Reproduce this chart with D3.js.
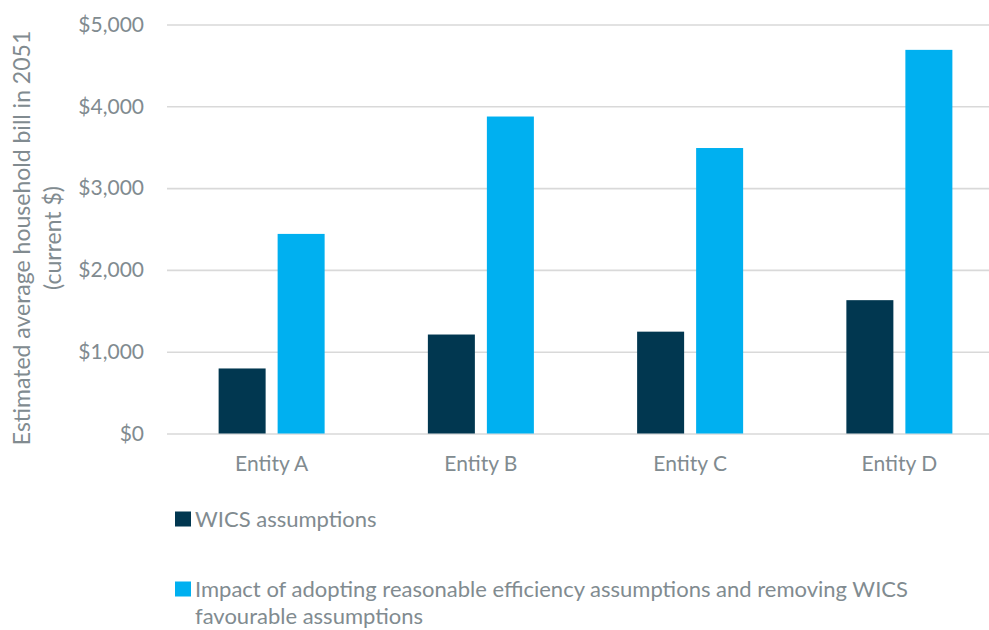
<!DOCTYPE html>
<html>
<head>
<meta charset="utf-8">
<script src="https://cdn.jsdelivr.net/npm/d3@7"></script>
<style>
  html, body { margin: 0; padding: 0; background: #fff; }
  svg { display: block; }
  text { font-family: Lato, "Open Sans", sans-serif; fill: #818b90; }
</style>
</head>
<body>
<script>
// Estimated average household bill in 2051, by entity
const categories = ["Entity A", "Entity B", "Entity C", "Entity D"];
const seriesNames = [
  "WICS assumptions",
  "Impact of adopting reasonable efficiency assumptions and removing WICS favourable assumptions"
];
const wicsValues = [795, 1210, 1245, 1630];
const adjustedValues = [2440, 3875, 3490, 4690];
const yTicks = [0, 1000, 2000, 3000, 4000, 5000];
const seriesColors = ["#013750", "#00b0f0"];

const width = 989, height = 630;
const svg = d3.select("body").append("svg")
  .attr("width", width).attr("height", height);

const x0 = d3.scaleBand()
  .domain(categories)
  .range([167, 1004])
  .paddingInner(0.4934)
  .paddingOuter(0.2467);

const x1 = d3.scaleBand()
  .domain([0, 1])
  .range([0, x0.bandwidth()])
  .paddingInner(0.2034)
  .paddingOuter(0);

const y = d3.scaleLinear().domain([0, 5000]).range([433.5, 24.5]);

// gridlines + y tick labels
const yAxis = d3.axisLeft(y)
  .tickValues(yTicks)
  .tickSize(-(1004 - 167))
  .tickPadding(23)
  .tickFormat(d => "$" + d3.format(",")(d));

const gy = svg.append("g")
  .attr("transform", "translate(167,0)")
  .call(yAxis);
gy.select(".domain").remove();
gy.selectAll(".tick line").attr("stroke", "#d9d9d9").attr("stroke-width", 1.6);
gy.selectAll(".tick text")
  .attr("font-size", 21)
  .attr("fill", "#818b90");

// bars
const rows = categories.map((c, i) => ({ cat: c, vals: [wicsValues[i], adjustedValues[i]] }));
const groups = svg.append("g").selectAll("g")
  .data(rows).join("g")
  .attr("transform", d => `translate(${x0(d.cat)},0)`);

groups.selectAll("rect")
  .data(d => d.vals.map((v, k) => ({ k, v })))
  .join("rect")
  .attr("x", d => x1(d.k))
  .attr("width", x1.bandwidth())
  .attr("y", d => y(d.v))
  .attr("height", d => y(0) - y(d.v))
  .attr("fill", d => seriesColors[d.k]);

// category axis labels
const xAxis = d3.axisBottom(x0).tickSize(0).tickPadding(23);
const gx = svg.append("g")
  .attr("transform", `translate(0,${y(0)})`)
  .call(xAxis);
gx.select(".domain").remove();
gx.selectAll(".tick text").attr("font-size", 21).attr("fill", "#818b90");

// y axis title (two lines)
const title = svg.append("text")
  .attr("transform", "translate(22,238) rotate(-90)")
  .attr("text-anchor", "middle")
  .attr("font-size", 23);
title.append("tspan").attr("x", 0).attr("dy", "0.35em")
  .text("Estimated average household bill in 2051");
title.append("tspan").attr("x", 0).attr("dy", 31)
  .text("(current $)");

// legend
const legend = svg.append("g");
const legendRows = [
  { color: seriesColors[0], lines: ["WICS assumptions"], y: 519 },
  { color: seriesColors[1], lines: ["Impact of adopting reasonable efficiency assumptions and removing WICS", "favourable assumptions"], y: 589 }
];
legendRows.forEach(r => {
  legend.append("rect")
    .attr("x", 175).attr("y", r.y - 7.5)
    .attr("width", 16).attr("height", 15)
    .attr("fill", r.color);
  const t = legend.append("text")
    .attr("x", 195).attr("y", r.y)
    .attr("font-size", 22);
  r.lines.forEach((ln, i) => {
    t.append("tspan").attr("x", 195)
      .attr("dy", i === 0 ? "0.35em" : 27)
      .text(ln);
  });
});
</script>
</body>
</html>
